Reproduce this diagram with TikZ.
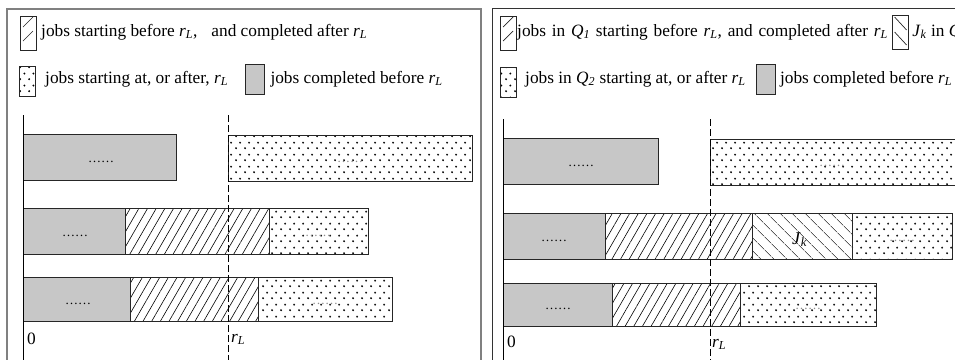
\documentclass[tikz,border=0pt]{standalone}
\usepackage{fontspec}
\setmainfont{Liberation Serif}
\usetikzlibrary{patterns,patterns.meta,positioning,calc}
\pgfdeclarepatternformonly{jobdots}{\pgfqpoint{0bp}{0bp}}{\pgfqpoint{9bp}{11.5bp}}{\pgfqpoint{9bp}{11.5bp}}{%
  \pgfpathcircle{\pgfqpoint{2.25bp}{2.875bp}}{1.1bp}%
  \pgfpathcircle{\pgfqpoint{6.75bp}{8.625bp}}{1.1bp}%
  \pgfusepath{fill}}
\newcommand{\rL}{\textit{r}\textsubscript{\textit{L}}}
\newcommand{\Qi}{\textit{Q}\textsubscript{\textit{1}}}
\newcommand{\Qii}{\textit{Q}\textsubscript{\textit{2}}}
\newcommand{\Jk}{\textit{J}\textsubscript{\textit{k}}}
\begin{document}
\begin{tikzpicture}[x=1bp,y=-1bp,
  bar/.style={draw=black!85,line width=1bp},
  done/.style={bar,fill=black!22},
  cross/.style={bar,pattern={Lines[angle=60,distance=7.5bp,line width=0.6bp]}},
  back/.style={bar,pattern={Lines[angle=-45,distance=10bp,line width=0.7bp]}},
  later/.style={bar,pattern=jobdots},
  lab/.style={font=\fontsize{17.3bp}{20bp}\selectfont,inner sep=0pt,text height=12bp,text depth=4bp,anchor=west},
  lbox/.style={bar,inner sep=0pt,minimum width=16bp,minimum height=34bp},
  lhatch/.style={lbox,path picture={\draw[line width=0.7bp]
     ($(path picture bounding box.south west)+(3,-9)$) -- ++(10,-10)
     ($(path picture bounding box.south west)+(3,-23)$) -- ++(10,-10);}},
  lback/.style={lbox,path picture={\draw[line width=0.7bp]
     ($(path picture bounding box.north west)+(2,2)$) -- ++(12,13)
     ($(path picture bounding box.north west)+(2,17)$) -- ++(12,13);}},
  ldots/.style={lbox,pattern=jobdots,minimum height=30bp},
  ldone/.style={lbox,fill=black!22,minimum width=19bp,minimum height=30bp},
  ell/.style={font=\fontsize{13bp}{15bp}\selectfont,inner sep=0pt,anchor=base},
  faint/.style={ell,text=black!45},
  axis/.style={line width=1bp,black},
  rline/.style={line width=0.9bp,black,dash pattern=on 7bp off 3bp}]
\useasboundingbox (0,0) rectangle (955,359);
\clip (0,0) rectangle (955,359);
% frames
\draw[black!50,line width=1.8bp] (7,365) -- (7,9) -- (481,9) -- (481,365);
\draw[black!80,line width=1bp] (492,365) -- (492,8) -- (960,8);

% ---------- left legend
\node[lhatch] (lk1) at (28,33) {};
\node[lab] (l1) at (41,32) {jobs starting before \rL,\hspace{14bp}and completed after \rL};
\node[ldots] (lk2) at (27,81) {};
\node[lab] (l2) at (45,79) {jobs starting at, or after, \rL};
\node[ldone,right=17bp of l2] (lk3) {};
\node[lab,right=5bp of lk3] (l3) {jobs completed before \rL};

% ---------- left bars
\draw[done] (23,134) rectangle (176,180);
\draw[later] (228,135) rectangle (472,181);
\draw[done] (23,208) rectangle (125,254);
\draw[cross] (125,208) rectangle (269,254);
\draw[later] (269,208) rectangle (368,254);
\draw[done] (23,277) rectangle (130,321);
\draw[cross] (130,277) rectangle (258,321);
\draw[later] (258,277) rectangle (392,321);
\node[ell] (a1) at (101,162) {……};
\node[ell] (a2) at (75,236) {……};
\node[ell] (a3) at (78,304) {……};
\node[faint] (b1) at (350,162) {……};
\node[faint] (b2) at (318,236) {……};
\node[faint] (b3) at (325,304) {……};
\draw[axis] (23,115) -- (23,362);
\draw[rline] (228,115) -- (228,362);
\node[lab,anchor=base west] (z1) at (27,344) {0};
\node[lab,anchor=base west] (r1) at (231,342) {\rL};

% ---------- right legend
\node[lhatch] (mk1) at (508,33) {};
\node[lab] (m1) at (517,32) {\spaceskip=5.8bp plus 1bp jobs in \Qi\ starting before \rL, and completed after \rL};
\node[lback,right=4bp of m1] (mk2) {};
\node[lab,right=3bp of mk2] (m2) {\Jk\ in \textit{Q}};
\node[ldots] (mk3) at (508,82) {};
\node[lab] (m3) at (525,79) {jobs in \Qii\ starting at, or after \rL};
\node[ldone,right=10bp of m3] (mk4) {};
\node[lab,right=4bp of mk4] (m4) {jobs completed before \rL};

% ---------- right bars
\draw[done] (503,138) rectangle (658,184);
\draw[later] (710,139) rectangle (962,185);
\draw[done] (503,213) rectangle (605,259);
\draw[cross] (605,213) rectangle (752,259);
\draw[back] (752,213) rectangle (852,259);
\draw[later] (852,213) rectangle (952,259);
\draw[done] (503,283) rectangle (612,326);
\draw[cross] (612,283) rectangle (740,326);
\draw[later] (740,283) rectangle (876,326);
\node[ell] (c1) at (581,166) {……};
\node[ell] (c2) at (554,241) {……};
\node[ell] (c3) at (558,309) {……};
\node[faint] (d1) at (832,166) {……};
\node[faint] (d2) at (902,241) {……};
\node[faint] (d3) at (808,309) {……};
\node[lab,anchor=base west,font=\fontsize{18bp}{20bp}\selectfont] (jk) at (792,244) {\Jk};
\draw[axis] (503,119) -- (503,362);
\draw[rline] (710,119) -- (710,362);
\node[lab,anchor=base west] (z2) at (507,347) {0};
\node[lab,anchor=base west] (r2) at (712,347) {\rL};
\end{tikzpicture}
\end{document}
